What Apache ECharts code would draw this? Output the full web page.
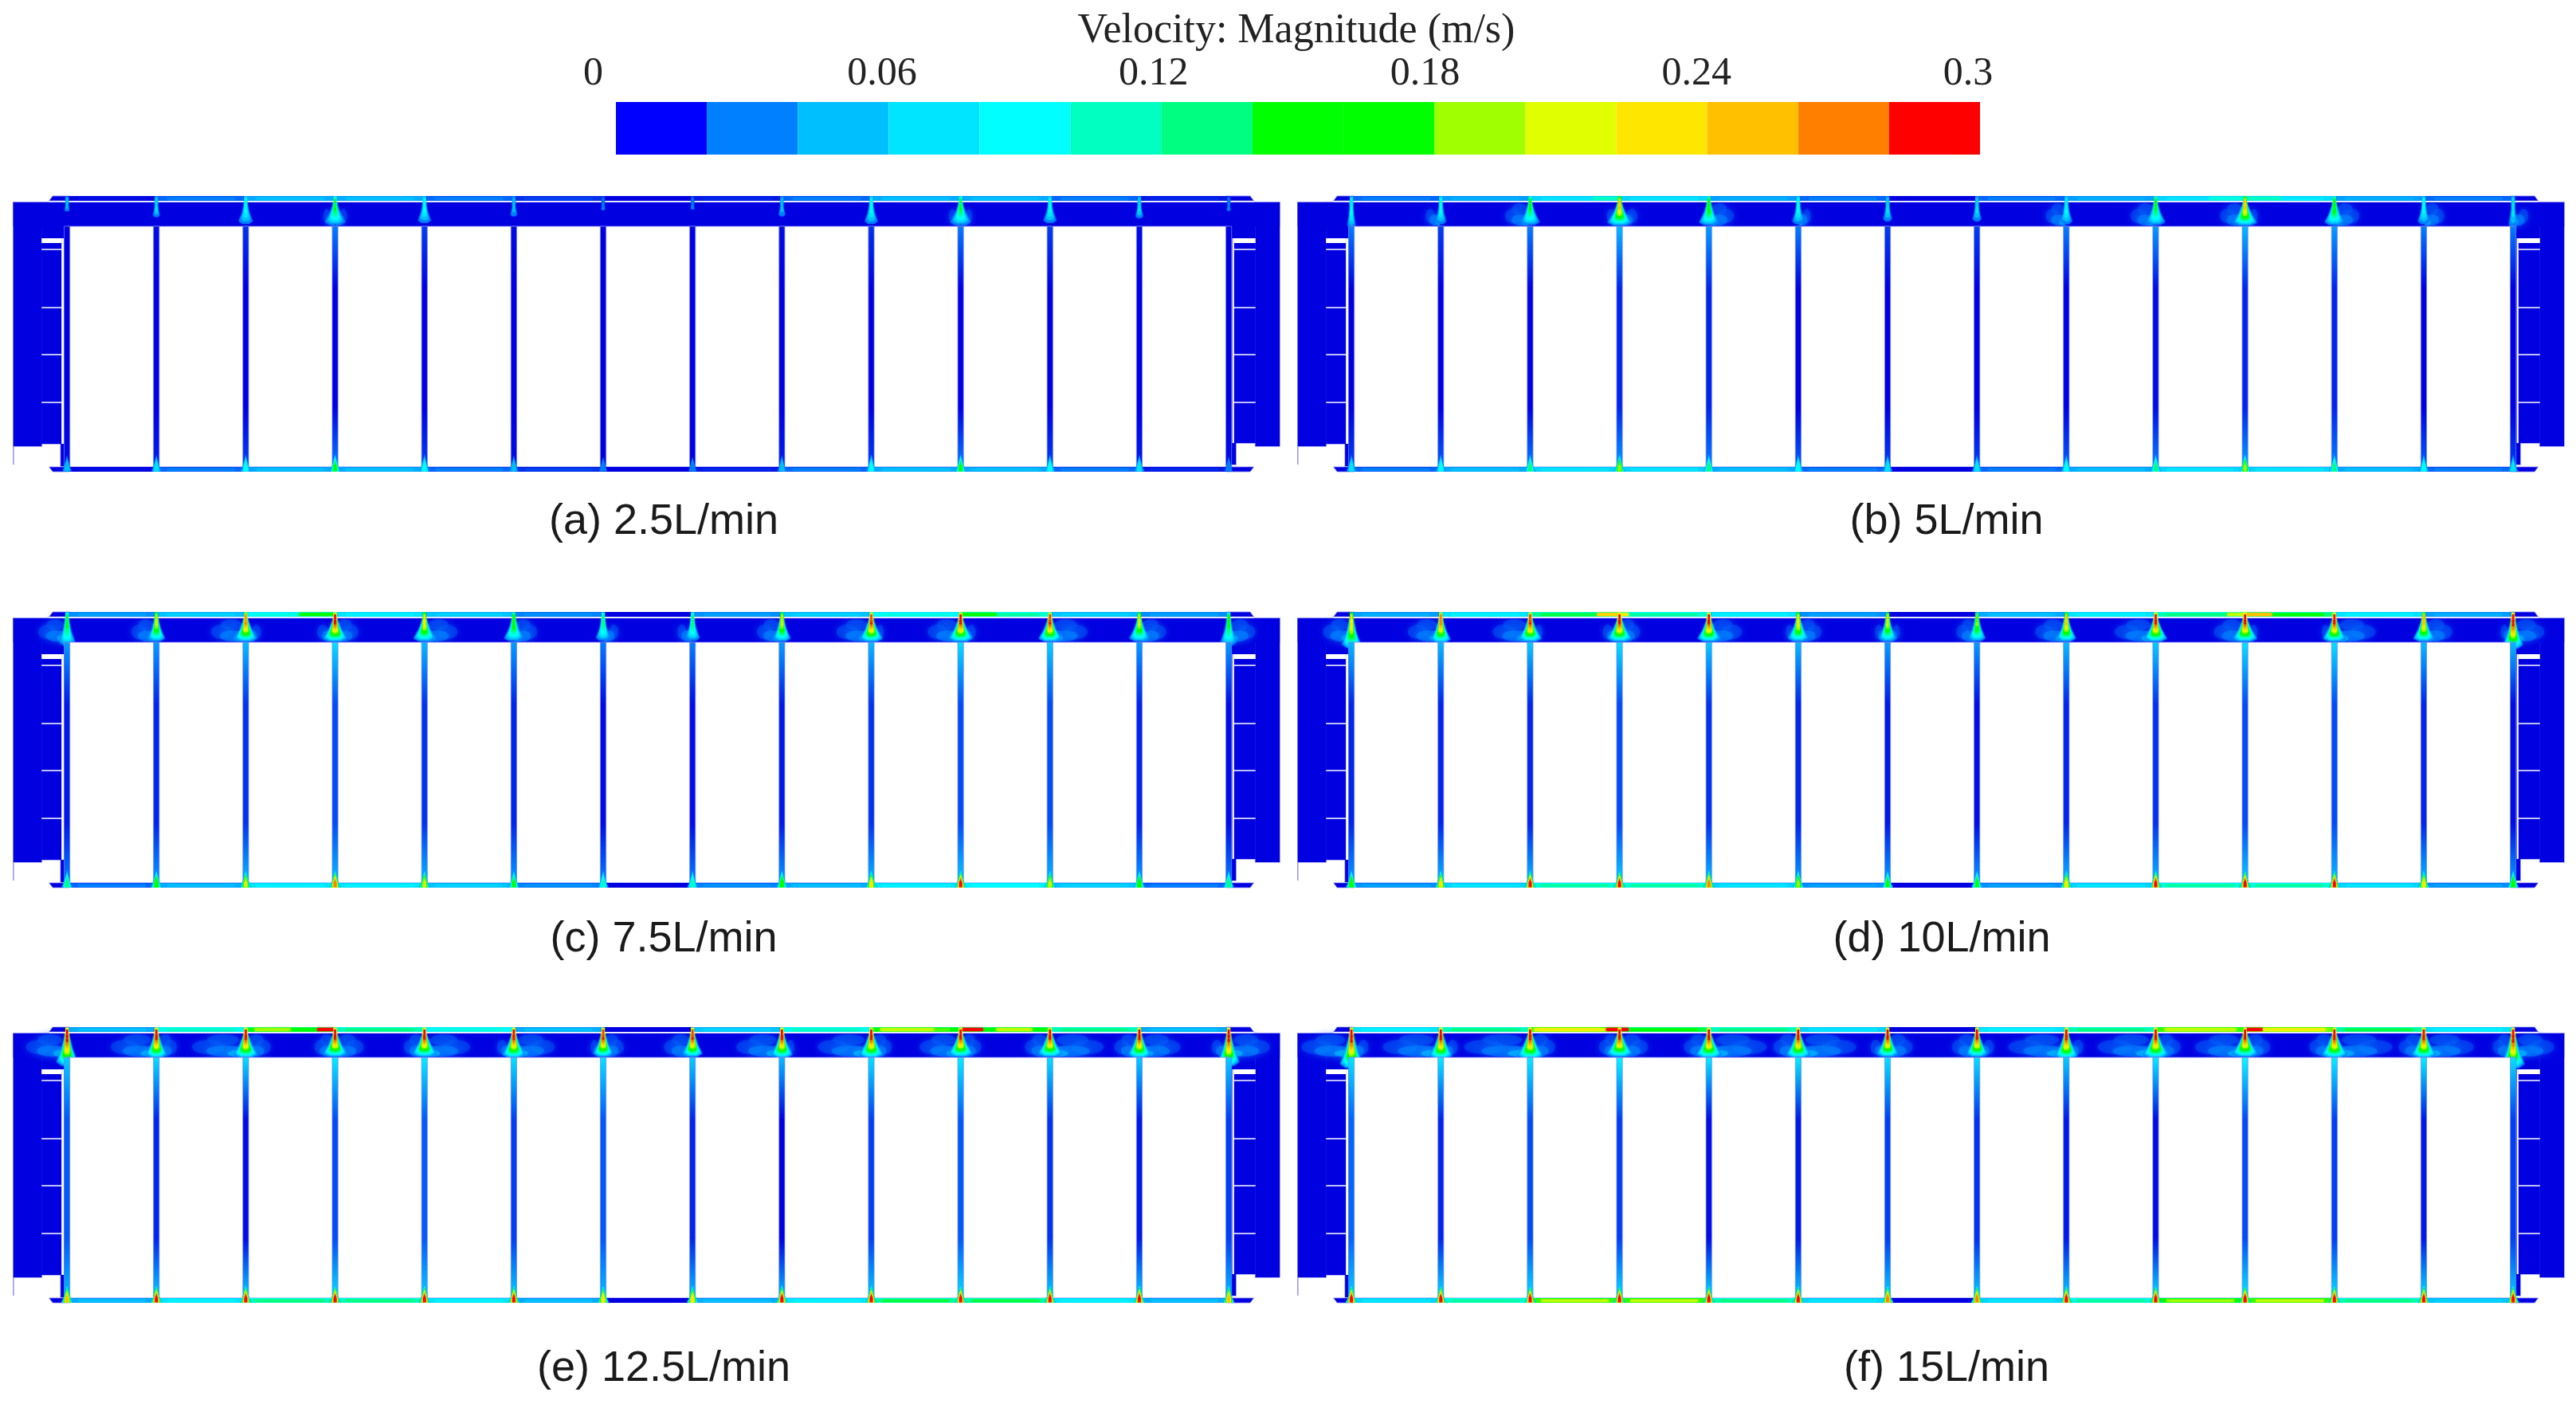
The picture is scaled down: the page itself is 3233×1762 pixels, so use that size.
<!DOCTYPE html>
<html><head><meta charset="utf-8">
<style>html,body{margin:0;padding:0;background:#fff}#c{width:3233px;height:1762px}</style>
<script src="https://cdn.jsdelivr.net/npm/echarts@6/dist/echarts.min.js"></script>
</head><body><div id="c"></div>
<script>
// ---- legend ----
const legendTitle = 'Velocity: Magnitude (m/s)';
const bandColors = ['#0000ff','#0080ff','#00bfff','#00e5ff','#00ffff','#00ffc0','#00ff80','#00ff00','#00ff00','#a0ff00','#e0ff00','#ffe600','#ffc000','#ff8000','#ff0000'];
const bandWidth = 0.02;
const legendMax = 0.3;
const legendTick = 0.06;
const captions = ['(a) 2.5L/min','(b) 5L/min','(c) 7.5L/min','(d) 10L/min','(e) 12.5L/min','(f) 15L/min'];

// ---- velocity readings (m/s). 13 gaps along each thin channel ----
const topA=[.012,.03,.05,.05,.03,.02,.004,.016,.03,.05,.05,.03,.016];
const topB=[.03,.045,.07,.07,.045,.03,.006,.03,.045,.07,.075,.045,.03];
const topC=[.04,.06,.10,.08,.06,.035,.004,.04,.06,.10,.12,.06,.04];
const topD=[.045,.08,.14,.12,.08,.04,.006,.05,.08,.13,.15,.08,.045];
const topE=[.05,.11,.17,.13,.10,.05,.006,.06,.11,.18,.17,.13,.05];
const topF=[.08,.13,.21,.16,.13,.07,.01,.08,.13,.20,.21,.14,.08];
const botA=[.012,.03,.05,.05,.03,.02,.005,.016,.03,.05,.05,.03,.016];
const botB=[.03,.05,.07,.07,.05,.03,.005,.03,.05,.07,.07,.05,.03];
const botC=[.03,.05,.08,.08,.06,.035,.004,.035,.05,.08,.09,.06,.03];
const botD=[.04,.07,.12,.12,.07,.04,.004,.04,.07,.12,.12,.07,.04];
const botE=[.05,.08,.13,.13,.08,.05,.004,.05,.08,.14,.14,.08,.05];
const botF=[.07,.12,.20,.20,.13,.07,.005,.07,.12,.19,.20,.13,.06];
// hot sections of the upper channel: gap, start, end, velocity
const hotA=[];
const hotB=[[2,.7,1,.11],[9,.6,1,.1],[10,0,.4,.11]];
const hotC=[[2,.6,1,.15],[10,0,.4,.17]];
const hotD=[[2,.75,1,.24],[3,0,.1,.22],[9,.8,1,.2],[10,0,.3,.25]];
const hotE=[[2,.1,.5,.19],[2,.8,1,.3],[9,.1,.7,.2],[10,0,.25,.3],[10,.4,.8,.2]];
const hotF=[[2,.05,.8,.22],[2,.85,1,.3],[3,0,.1,.3],[9,.1,.9,.2],[10,0,.2,.3],[10,.2,.9,.22]];
// 14 plates
const jetA=[.05,.06,.09,.14,.09,.05,.03,.03,.05,.09,.14,.09,.06,.03];
const jetB=[.08,.09,.15,.24,.16,.09,.06,.06,.08,.15,.24,.16,.09,.07];
const jetC=[.14,.2,.26,.3,.22,.17,.13,.13,.2,.28,.3,.28,.2,.15];
const jetD=[.22,.27,.28,.3,.3,.22,.2,.18,.24,.3,.3,.3,.25,.3];
const jetE=[.3,.3,.3,.3,.3,.3,.28,.28,.3,.3,.3,.3,.3,.3];
const jetF=[.3,.3,.3,.3,.3,.3,.3,.3,.3,.3,.3,.3,.3,.3];
const footA=[.05,.06,.09,.14,.09,.05,.03,.03,.05,.09,.14,.09,.06,.03];
const footB=[.07,.09,.13,.18,.13,.09,.06,.06,.09,.13,.18,.13,.09,.07];
const footC=[.12,.16,.2,.26,.2,.14,.1,.1,.16,.22,.28,.2,.16,.12];
const footD=[.16,.22,.28,.3,.26,.18,.14,.14,.22,.28,.3,.28,.22,.16];
const footE=[.24,.28,.3,.3,.3,.28,.22,.22,.28,.3,.3,.3,.28,.24];
const footF=[.28,.3,.3,.3,.3,.3,.26,.26,.3,.3,.3,.3,.3,.28];
const midA=[.008,.008,.008,.008,.008,.008,.008,.008,.008,.008,.008,.008,.008,.008];
const midB=[.01,.01,.01,.016,.016,.01,.008,.008,.01,.012,.016,.016,.01,.01];
const midC=[.014,.016,.018,.022,.018,.016,.012,.012,.014,.018,.022,.022,.016,.012];
const midD=[.016,.016,.016,.022,.018,.016,.014,.012,.016,.018,.022,.022,.016,.012];
const midE=[.024,.016,.012,.022,.024,.02,.024,.016,.01,.02,.024,.018,.014,.02];
const midF=[.026,.016,.022,.02,.012,.014,.02,.018,.014,.012,.022,.02,.014,.02];
const upperA=[.01,.012,.018,.03,.02,.012,.01,.01,.012,.018,.03,.02,.012,.01];
const upperB=[.03,.02,.03,.05,.04,.03,.02,.02,.03,.04,.05,.04,.03,.03];
const upperC=[.04,.04,.05,.07,.05,.04,.03,.03,.04,.05,.07,.06,.04,.04];
const upperD=[.05,.05,.06,.07,.06,.05,.04,.04,.05,.06,.07,.07,.05,.05];
const upperE=[.06,.07,.07,.08,.08,.07,.07,.06,.05,.07,.08,.07,.06,.06];
const upperF=[.07,.08,.08,.09,.08,.08,.07,.07,.06,.08,.09,.08,.08,.07];
const lowerA=[.012,.015,.02,.03,.02,.012,.01,.01,.015,.02,.03,.02,.015,.012];
const lowerB=[.02,.025,.03,.04,.03,.025,.02,.02,.025,.03,.04,.03,.025,.02];
const lowerC=[.03,.04,.05,.05,.05,.04,.03,.03,.04,.05,.06,.05,.04,.03];
const lowerD=[.04,.05,.05,.06,.05,.04,.04,.04,.05,.05,.06,.05,.05,.04];
const lowerE=[.05,.06,.06,.07,.06,.06,.05,.05,.05,.06,.07,.06,.06,.05];
const lowerF=[.06,.07,.07,.07,.07,.06,.06,.06,.06,.07,.08,.07,.07,.06];
// plume reach into the header: depth (fraction of header), half width and side reach (plate pitches)
const depthA=[.45,.7,1,1,.95,.7,.45,.4,.7,1,1,.95,.75,.5];
const depthB=[1.2,1,1,1,1,1,.9,.9,1,1,1,1,1,1.2];
const depthC=[1.2,1,1,1,1,1,1,1,1,1,1,1,1,1.2];
const depthD=[1.3,1.05,1,1,1,1,1,1,1,1,1,1,1,1.3];
const depthE=[1.4,1.05,1.05,1,1,1.05,1,1,1.05,1.05,1,1,1.05,1.4];
const depthF=[1.5,1.1,1.1,1,1.05,1.05,1,1,1.1,1.05,1,1.05,1.05,1.5];
const waistA=[.03,.04,.10,.13,.09,.05,.03,.03,.05,.09,.13,.09,.05,.03];
const waistB=[.05,.07,.12,.14,.12,.08,.06,.06,.08,.12,.14,.12,.08,.06];
const waistC=[.10,.10,.13,.14,.13,.12,.09,.09,.10,.13,.14,.13,.12,.10];
const waistD=[.11,.11,.13,.14,.13,.12,.10,.10,.11,.13,.14,.13,.12,.11];
const waistE=[.12,.12,.14,.14,.14,.13,.11,.11,.12,.14,.14,.14,.13,.12];
const waistF=[.13,.13,.15,.15,.15,.14,.12,.12,.13,.15,.15,.15,.14,.13];
const leftA=[.03,.06,.11,.13,.09,.06,.03,.03,.06,.09,.13,.09,.06,.04];
const leftB=[.11,.17,.28,.14,.07,.09,.07,.09,.23,.28,.28,.07,.09,.09];
const leftC=[.32,.28,.39,.20,.07,.07,.09,.17,.28,.39,.37,.09,.07,.09];
const leftD=[.32,.37,.42,.19,.09,.14,.14,.23,.35,.46,.35,.14,.09,.14];
const leftE=[.46,.51,.60,.23,.23,.19,.14,.32,.51,.60,.46,.28,.28,.19];
const leftF=[.56,.65,.74,.23,.28,.28,.19,.28,.65,.65,.56,.28,.28,.23];
const rightA=[.03,.06,.11,.13,.09,.06,.03,.03,.06,.09,.13,.09,.06,.04];
const rightB=[.07,.07,.09,.20,.28,.14,.09,.07,.07,.09,.14,.28,.23,.17];
const rightC=[.07,.07,.17,.26,.37,.26,.17,.11,.07,.14,.17,.42,.30,.30];
const rightD=[.09,.09,.14,.23,.37,.26,.14,.09,.07,.11,.14,.46,.32,.35];
const rightE=[.09,.23,.28,.32,.51,.46,.23,.09,.14,.23,.23,.60,.46,.46];
const rightF=[.19,.19,.28,.32,.65,.65,.28,.19,.19,.28,.28,.65,.56,.46];

const fields=[
 {top:topA,bot:botA,hot:hotA,jet:jetA,foot:footA,mid:midA,upper:upperA,lower:lowerA,depth:depthA,waist:waistA,left:leftA,right:rightA},
 {top:topB,bot:botB,hot:hotB,jet:jetB,foot:footB,mid:midB,upper:upperB,lower:lowerB,depth:depthB,waist:waistB,left:leftB,right:rightB},
 {top:topC,bot:botC,hot:hotC,jet:jetC,foot:footC,mid:midC,upper:upperC,lower:lowerC,depth:depthC,waist:waistC,left:leftC,right:rightC},
 {top:topD,bot:botD,hot:hotD,jet:jetD,foot:footD,mid:midD,upper:upperD,lower:lowerD,depth:depthD,waist:waistD,left:leftD,right:rightD},
 {top:topE,bot:botE,hot:hotE,jet:jetE,foot:footE,mid:midE,upper:upperE,lower:lowerE,depth:depthE,waist:waistE,left:leftE,right:rightE},
 {top:topF,bot:botF,hot:hotF,jet:jetF,foot:footF,mid:midF,upper:upperF,lower:lowerF,depth:depthF,waist:waistF,left:leftF,right:rightF}
];

// ---- geometry of the plate stack, model units: x in plate pitches, y in mm ----
const PLATES=14, Y_PLATE=8, Y_HEAD=38, Y_BOT=340, Y_END=346;
const blueParts=[[-.6,Y_PLATE,13.57,Y_HEAD],[-.6,Y_PLATE,-.285,314],[-.285,Y_PLATE,-.062,311],[-.07,Y_HEAD,.03,339],[13.3,Y_PLATE,13.57,314],[13.06,Y_PLATE,13.3,310],[12.97,Y_HEAD,13.08,337]];
const cutParts=[[-.285,53,-.062,59],[-.285,66.3,-.062,67.8],[-.285,139.3,-.062,140.8],[-.285,198.3,-.062,199.8],[-.285,258.3,-.062,259.8],[-.062,53,-.035,311],[13.04,53,13.06,310],[13.06,53,13.3,59],[13.06,66.3,13.3,67.8],[13.06,139.3,13.3,140.8],[13.06,198.3,13.3,199.8],[13.06,258.3,13.3,259.8]];

const PANEL_BLUE='#0000e0', HALO='rgba(125,125,250,0.75)';
const hex=c=>[parseInt(c.substr(1,2),16),parseInt(c.substr(3,2),16),parseInt(c.substr(5,2),16)];
function colorAt(v){
  const f=Math.max(0,Math.min(14,v/bandWidth-.5)), i=Math.floor(f), t=f-i;
  const a=hex(i===0?PANEL_BLUE:bandColors[i]), b=hex(bandColors[Math.min(14,i+1)]);
  return 'rgb('+a.map((x,k)=>Math.round(x+(b[k]-x)*t)).join(',')+')';
}
const band=v=>Math.min(14,Math.floor(v/bandWidth));
function rect(api,x0,y0,x1,y1,style){
  const p=api.coord([x0,y0]),q=api.coord([x1,y1]);
  return {type:'rect',shape:{x:p[0],y:p[1],width:q[0]-p[0],height:q[1]-p[1]},style};
}
function poly(api,pts,style){return {type:'polygon',shape:{points:pts.map(p=>api.coord(p))},style};}
function blob(api,x,y,rx,ry,color,alpha){
  const c=api.coord([x,y]),e=api.coord([x+rx,y+ry]);
  return {type:'ellipse',shape:{cx:c[0],cy:c[1],rx:Math.abs(e[0]-c[0]),ry:Math.abs(e[1]-c[1])},
    style:{fill:color,opacity:alpha,shadowBlur:9,shadowColor:color}};
}
function group(children){return {type:'group',children};}

// series renderers ---------------------------------------------------
function renderShellHalo(p,api){
  const d=blueParts[api.value(0)];
  return rect(api,d[0],d[1],d[2],d[3],{fill:PANEL_BLUE,stroke:HALO,lineWidth:1.6});
}
function renderShellBlue(p,api){
  const d=blueParts[api.value(0)];
  return rect(api,d[0],d[1],d[2],d[3],{fill:PANEL_BLUE});
}
function renderOutline(p,api){
  const a=api.coord([-.6,314]),b=api.coord([-.6,337]);
  return {type:'line',shape:{x1:a[0],y1:a[1],x2:b[0],y2:b[1]},style:{stroke:'#9a9af5',lineWidth:1.6}};
}
function renderPlume(p,api){
  const x=api.value(0),peak=api.value(1),depth=api.value(2)*30,waist=api.value(3),le=api.value(4),re=api.value(5);
  const kids=[];
  [[-1,le],[1,re]].forEach(([s,e])=>{
    if(e<.12) return;
    kids.push(blob(api,x+s*e*.7,25,e*.3,9,colorAt(.022),.6));
    if(e>.2) kids.push(blob(api,x+s*e*.42,16,e*.3,7,colorAt(.024),.55));
    kids.push(blob(api,x+s*e*.38,30,e*.36,7,colorAt(.032),.6));
    kids.push(blob(api,x+s*e*.16,33,e*.18,4,colorAt(.05),.6));
  });
  const top=band(peak);
  for(let b=1;b<=top;b++){
    const t=b/(top+1), L=depth*Math.sqrt(1-t), W=waist*(1-t)*(1-t)+.013;
    const c=colorAt(b*bandWidth+bandWidth/2);
    kids.push(poly(api,[[x-.013,Y_PLATE],[x+.013,Y_PLATE],[x+W*.55,Y_PLATE+.5*L],[x+W,Y_PLATE+.88*L],[x+W*.5,Y_PLATE+L],[x-W*.5,Y_PLATE+L],[x-W,Y_PLATE+.88*L],[x-W*.55,Y_PLATE+.5*L]],
      {fill:c,shadowBlur:2,shadowColor:c}));
  }
  return group(kids);
}
function renderWhite(p,api){
  const kind=api.value(0),i=api.value(1);
  if(kind===0) return rect(api,i,Y_HEAD,i+1,Y_BOT,{fill:'#fff',stroke:HALO,lineWidth:1});
  const d=cutParts[i];
  return rect(api,d[0],d[1],d[2],d[3],{fill:'#fff'});
}
function renderPlate(p,api){
  const x=api.value(0),up=api.value(1),mid=api.value(2),low=api.value(3);
  return rect(api,x-.032,Y_HEAD,x+.032,Y_BOT,{
    stroke:HALO,lineWidth:1,
    fill:{type:'linear',x:0,y:0,x2:0,y2:1,colorStops:[
      {offset:0,color:colorAt(up)},{offset:.26,color:colorAt(mid)},{offset:.75,color:colorAt(mid)},{offset:1,color:colorAt(low)}]}
  });
}
function renderChannel(y0,y1){
  return function(p,api){
    const i=api.value(0),v=api.value(1),h=y1-y0;
    return group([
      rect(api,i,y0,i+1,y1,{fill:colorAt(v*.72)}),
      rect(api,i+.03,y0+h*.12,i+.97,y1-h*.06,{fill:colorAt(v*.88)}),
      rect(api,i+.12,y0+h*.24,i+.88,y1-h*.14,{fill:colorAt(v)})
    ]);
  };
}
function renderEndCaps(p,api){
  const s=api.value(0),y0=api.value(1),y1=api.value(2),slant=api.value(3);
  const reach=s?.28:.2;
  const map=x=>s?13-x:x;
  return poly(api,[[map(-reach+slant*.04),y0],[map(.03),y0],[map(.03),y1],[map(-reach+(1-slant)*.04),y1]],{fill:PANEL_BLUE,stroke:HALO,lineWidth:1});
}
function renderHot(p,api){
  const i=api.value(0),a=api.value(1),b=api.value(2),v=api.value(3);
  return rect(api,i+a,1.2,i+b,5,{fill:colorAt(v),shadowBlur:3,shadowColor:colorAt(v)});
}
function renderWhiteLine(p,api){
  return rect(api,-.2,6,13.28,7.6,{fill:'#f4f4ff'});
}
function renderJetHead(p,api){
  const x=api.value(0),peak=api.value(1);
  return group([
    rect(api,x-.02,.5,x+.02,Y_PLATE+2,{fill:colorAt(peak*.72)}),
    rect(api,x-.012,3,x+.012,Y_PLATE+5,{fill:colorAt(peak)})
  ]);
}
function renderFoot(p,api){
  const x=api.value(0),peak=api.value(1);
  const kids=[],top=band(peak);
  for(let b=1;b<=top;b++){
    const t=b/(top+1),L=18*Math.sqrt(1-t),W=.032*Math.sqrt(1-t)+.008,F=.06*(1-t)+.012;
    kids.push(poly(api,[[x,Y_BOT-L],[x+W,Y_BOT],[x+F,Y_END-.4],[x-F,Y_END-.4],[x-W,Y_BOT]],{fill:colorAt(b*bandWidth+bandWidth/2)}));
  }
  return group(kids);
}
function renderBand(p,api){
  const i=api.value(0);
  return rect(api,i*bandWidth,0,(i+1)*bandWidth,1,{fill:api.visual('color')});
}

// layout --------------------------------------------------------------
const GX0=0,GX1=1612,GY=[246,768,1289],GW=1620.6,GH=350;
const labelStyle={fontFamily:'Liberation Serif',fontSize:50,color:'#222'};
const grid=[{left:773,top:128,width:1712,height:66},{left:766.4,top:120,width:1703.6,height:1}];
const xAxis=[
 {gridIndex:0,type:'value',min:0,max:legendMax,show:false},
 {gridIndex:1,type:'value',min:0,max:legendMax,interval:legendTick,position:'top',axisLine:{show:false},axisTick:{show:false},splitLine:{show:false},
  axisLabel:Object.assign({margin:2,hideOverlap:false,
    formatter:v=>v===0?'{z|0}':String(v),rich:{z:Object.assign({padding:[0,44,0,0]},labelStyle)}},labelStyle)}
];
const yAxis=[{gridIndex:0,type:'value',min:0,max:1,show:false},{gridIndex:1,type:'value',min:0,max:1,show:false}];
const series=[{type:'custom',coordinateSystem:'cartesian2d',xAxisIndex:0,yAxisIndex:0,silent:true,renderItem:renderBand,
  data:bandColors.map((c,i)=>({value:[i,0],itemStyle:{color:c}})),encode:{x:0,y:1}}];

fields.forEach((f,k)=>{
  const g=grid.length;
  grid.push({left:k%2?GX1:GX0,top:GY[Math.floor(k/2)],width:GW,height:GH});
  xAxis.push({gridIndex:g,type:'value',min:-.75,max:13.7,show:false});
  yAxis.push({gridIndex:g,type:'value',min:0,max:GH,inverse:true,show:false});
  const add=(renderItem,data)=>series.push({type:'custom',coordinateSystem:'cartesian2d',xAxisIndex:g,yAxisIndex:g,silent:true,clip:false,renderItem,data,encode:{x:0,y:1}});
  const plates=f.jet.map((_,i)=>i);
  const parts=blueParts.map((_,i)=>[i,0]);
  add(renderShellHalo,parts);
  add(renderShellBlue,parts);
  add(renderOutline,[[0,0]]);
  add(renderPlume,plates.map(i=>[i,f.jet[i],f.depth[i],f.waist[i],f.left[i],f.right[i]]));
  add(renderWhite,[...f.top.map((_,i)=>[0,i]),...cutParts.map((_,i)=>[1,i])]);
  add(renderPlate,plates.map(i=>[i,f.upper[i],f.mid[i],f.lower[i]]));
  add(renderEndCaps,[[0,0,6,1],[1,0,6,1],[0,Y_BOT,Y_END,0],[1,Y_BOT,Y_END,0]]);
  add(renderChannel(0,6),f.top.map((v,i)=>[i,v]));
  add(renderChannel(Y_BOT,Y_END),f.bot.map((v,i)=>[i,v]));
  add(renderHot,f.hot);
  add(renderWhiteLine,[[0,0]]);
  add(renderJetHead,plates.map(i=>[i,f.jet[i]]));
  add(renderFoot,plates.map(i=>[i,f.foot[i]]));
});

const capCss={fontFamily:'Liberation Sans',fontSize:54,fontWeight:'normal',color:'#1a1a1a'};
const capX=[833,2443,833,2437,833,2443],capY=[655,655,1179,1179,1718,1718];
const title=[{text:legendTitle,left:1627,top:39,textAlign:'center',textVerticalAlign:'middle',padding:0,
  textStyle:{fontFamily:'Liberation Serif',fontSize:52,fontWeight:'normal',color:'#222'}}];
captions.forEach((c,i)=>title.push({text:c,left:capX[i],top:capY[i],textAlign:'center',textVerticalAlign:'middle',padding:0,textStyle:capCss}));

const chart=echarts.init(document.getElementById('c'),null,{renderer:'canvas',width:3233,height:1762});
chart.setOption({animation:false,backgroundColor:'#fff',title,grid,xAxis,yAxis,series,tooltip:{show:false}});
</script></body></html>
